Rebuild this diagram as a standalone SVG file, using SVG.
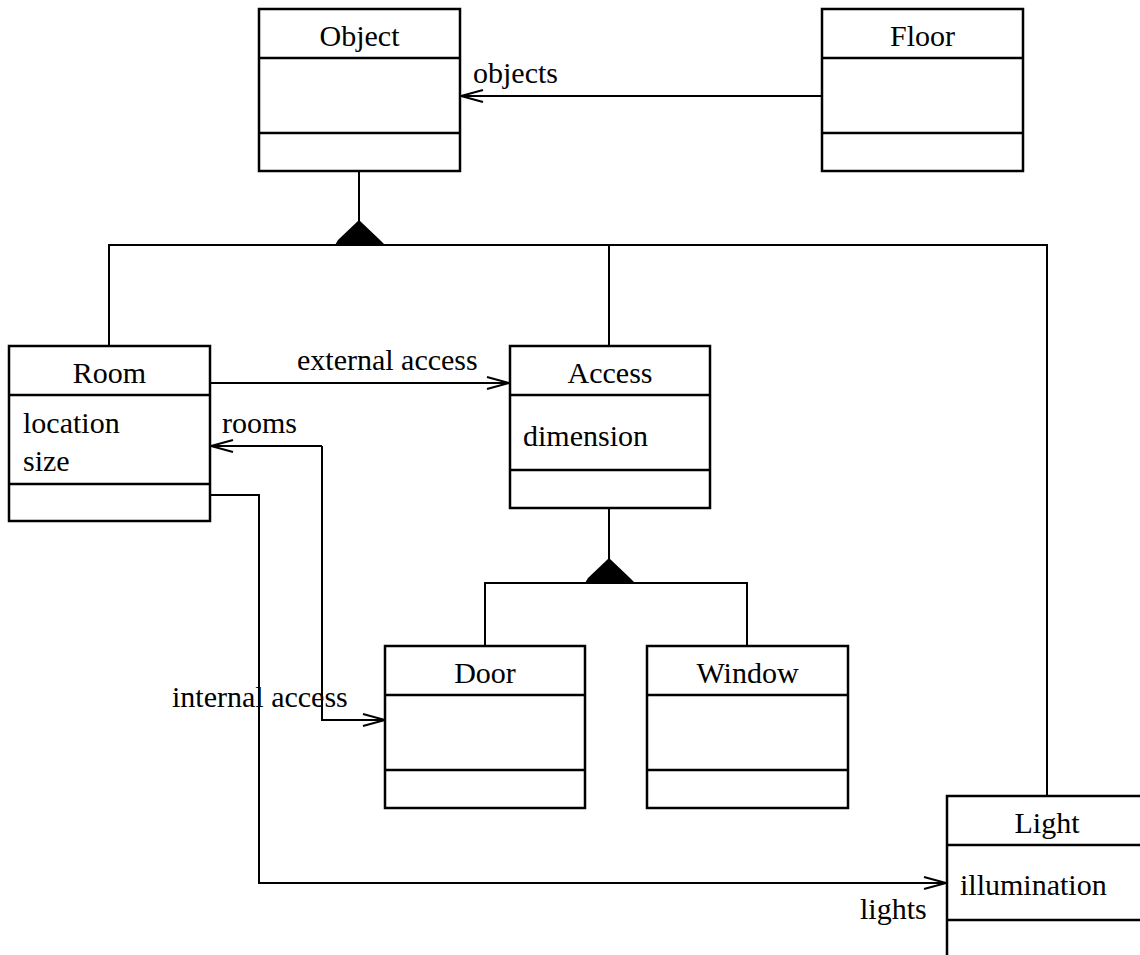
<svg xmlns="http://www.w3.org/2000/svg" width="1140" height="955" viewBox="0 0 1140 955">
<style>
.box{fill:#fff;stroke:#000;stroke-width:2.5}
.div{stroke:#000;stroke-width:2.5}
.ln{fill:none;stroke:#000;stroke-width:2}
.t{font-family:"Liberation Serif","Times New Roman",serif;font-size:30px;fill:#000}
.c{text-anchor:middle}
</style>
<defs>
<marker id="arr" markerUnits="userSpaceOnUse" markerWidth="26" markerHeight="16" viewBox="-24 -8 26 16" refX="0" refY="0" orient="auto">
<path d="M-22,-6 L0,0 L-22,6" fill="none" stroke="#000" stroke-width="2"/>
</marker>
</defs>
<rect width="1140" height="955" fill="#fff"/>
<g id="connectors">
<line class="ln" x1="822" y1="96" x2="461" y2="96" marker-end="url(#arr)"/>
<line class="ln" x1="359" y1="171" x2="359" y2="222"/>
<polyline class="ln" points="109,346 109,245 1047,245 1047,796"/>
<line class="ln" x1="609" y1="245" x2="609" y2="346"/>
<polygon points="359,220 380,240 385,245 335,245 338,240" fill="#000"/>
<line class="ln" x1="210" y1="383" x2="509" y2="383" marker-end="url(#arr)"/>
<polyline class="ln" points="322,446 322,720 385,720" marker-end="url(#arr)"/>
<line class="ln" x1="322" y1="446" x2="211" y2="446" marker-end="url(#arr)"/>
<polyline class="ln" points="210,495 259,495 259,883 946,883" marker-end="url(#arr)"/>
<line class="ln" x1="609" y1="508" x2="609" y2="560"/>
<polygon points="609,558 630,578 635,583 585,583 588,578" fill="#000"/>
<polyline class="ln" points="485,646 485,583 747,583 747,646"/>
</g>
<g id="Object">
<rect class="box" x="259" y="9" width="201" height="162"/>
<line class="div" x1="259" y1="58" x2="460" y2="58"/>
<line class="div" x1="259" y1="133" x2="460" y2="133"/>
<text class="t c" x="359.5" y="46">Object</text>
</g>
<g id="Floor">
<rect class="box" x="822" y="9" width="201" height="162"/>
<line class="div" x1="822" y1="58" x2="1023" y2="58"/>
<line class="div" x1="822" y1="133" x2="1023" y2="133"/>
<text class="t c" x="922.5" y="46">Floor</text>
</g>
<text class="t" x="473" y="83">objects</text>
<g id="Room">
<rect class="box" x="9" y="346" width="201" height="175"/>
<line class="div" x1="9" y1="395" x2="210" y2="395"/>
<line class="div" x1="9" y1="484" x2="210" y2="484"/>
<text class="t c" x="109.5" y="383">Room</text>
<text class="t" x="23" y="433">location</text>
<text class="t" x="23" y="471">size</text>
</g>
<g id="Access">
<rect class="box" x="510" y="346" width="200" height="162"/>
<line class="div" x1="510" y1="395" x2="710" y2="395"/>
<line class="div" x1="510" y1="470" x2="710" y2="470"/>
<text class="t c" x="610" y="383">Access</text>
<text class="t" x="523" y="446">dimension</text>
</g>
<text class="t" x="297" y="370">external access</text>
<text class="t" x="222" y="433">rooms</text>
<g id="Door">
<rect class="box" x="385" y="646" width="200" height="162"/>
<line class="div" x1="385" y1="695" x2="585" y2="695"/>
<line class="div" x1="385" y1="770" x2="585" y2="770"/>
<text class="t c" x="485" y="683">Door</text>
</g>
<g id="Window">
<rect class="box" x="647" y="646" width="201" height="162"/>
<line class="div" x1="647" y1="695" x2="848" y2="695"/>
<line class="div" x1="647" y1="770" x2="848" y2="770"/>
<text class="t c" x="747.5" y="683">Window</text>
</g>
<text class="t" x="172" y="707">internal access</text>
<g id="Light">
<rect class="box" x="947" y="796" width="220" height="180"/>
<line class="div" x1="947" y1="845" x2="1140" y2="845"/>
<line class="div" x1="947" y1="920" x2="1140" y2="920"/>
<text class="t c" x="1047" y="833">Light</text>
<text class="t" x="960" y="895">illumination</text>
</g>
<text class="t" x="860" y="919">lights</text>
</svg>
